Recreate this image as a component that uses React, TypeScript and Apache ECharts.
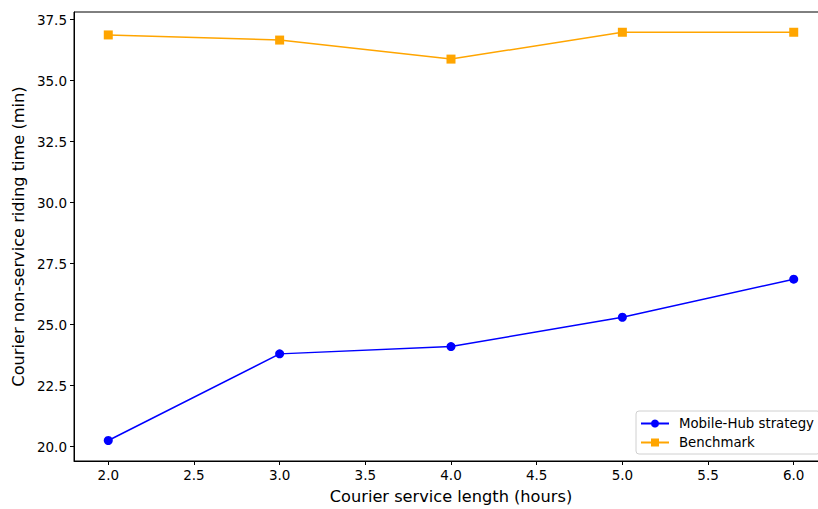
import React, { useEffect, useRef } from "react";
import * as echarts from "echarts";

const serviceLength = [2.0, 3.0, 4.0, 5.0, 6.0];
const mobileHub = [20.25, 23.8, 24.1, 25.3, 26.86];
const benchmark = [36.87, 36.66, 35.88, 36.98, 36.98];
const xTicks = [2.0, 2.5, 3.0, 3.5, 4.0, 4.5, 5.0, 5.5, 6.0];
const yTicks = [20.0, 22.5, 25.0, 27.5, 30.0, 32.5, 35.0, 37.5];

const FONT = "DejaVu Sans";

export default function App() {
  const ref = useRef<HTMLDivElement>(null);
  useEffect(() => {
    if (!ref.current) return;
    const chart = echarts.init(ref.current, null, { renderer: "svg" });
    const axisCommon = {
      axisLine: { show: true, lineStyle: { color: "#000", width: 1 } },
      axisTick: { show: true, inside: false, length: 4, lineStyle: { color: "#000", width: 1 } },
      splitLine: { show: false },
      nameLocation: "middle" as const,
      nameTextStyle: { fontFamily: FONT, fontSize: 16.2, color: "#000" },
    };
    chart.setOption({
      animation: false,
      backgroundColor: "#fff",
      textStyle: { fontFamily: FONT },
      grid: {
        left: 74,
        top: 12,
        width: 754,
        height: 449,
        show: true,
        borderColor: "#000",
        borderWidth: 1,
        backgroundColor: "transparent",
      },
      xAxis: {
        type: "value",
        min: 1.8,
        max: 6.2,
        name: "Courier service length (hours)",
        nameGap: 27,
        ...axisCommon,
        axisTick: { ...axisCommon.axisTick, customValues: xTicks },
        axisLabel: {
          customValues: xTicks,
          fontFamily: FONT,
          fontSize: 13.5,
          color: "#000",
          margin: 7,
          formatter: (v: number) => v.toFixed(1),
        },
      },
      yAxis: {
        type: "value",
        min: 19.41,
        max: 37.81,
        name: "Courier non-service riding time (min)",
        nameGap: 45,
        ...axisCommon,
        axisTick: { ...axisCommon.axisTick, customValues: yTicks },
        axisLabel: {
          customValues: yTicks,
          fontFamily: FONT,
          fontSize: 13.5,
          color: "#000",
          margin: 7,
          formatter: (v: number) => v.toFixed(1),
        },
      },
      legend: {
        orient: "vertical",
        left: 636,
        top: 411,
        itemWidth: 28,
        itemHeight: 10,
        itemGap: 6,
        padding: [6, 6, 5, 4],
        borderColor: "#d0d0d0",
        borderWidth: 1,
        borderRadius: 3,
        backgroundColor: "rgba(255,255,255,0.8)",
        textStyle: { fontFamily: FONT, fontSize: 13.3, color: "#000", padding: [0, 0, 0, 5] },
        data: ["Mobile-Hub strategy", "Benchmark"],
      },
      series: [
        {
          name: "Mobile-Hub strategy",
          type: "line",
          data: serviceLength.map((x, i) => [x, mobileHub[i]]),
          symbol: "circle",
          symbolSize: 9,
          lineStyle: { color: "#0000ff", width: 1.5 },
          itemStyle: { color: "#0000ff" },
        },
        {
          name: "Benchmark",
          type: "line",
          data: serviceLength.map((x, i) => [x, benchmark[i]]),
          symbol: "rect",
          symbolSize: 9,
          lineStyle: { color: "#ffa500", width: 1.5 },
          itemStyle: { color: "#ffa500" },
        },
      ],
    });
    return () => chart.dispose();
  }, []);
  return (
    <div
      ref={ref}
      style={{ position: "fixed", left: 0, top: 0, width: 840, height: 509 }}
    />
  );
}
